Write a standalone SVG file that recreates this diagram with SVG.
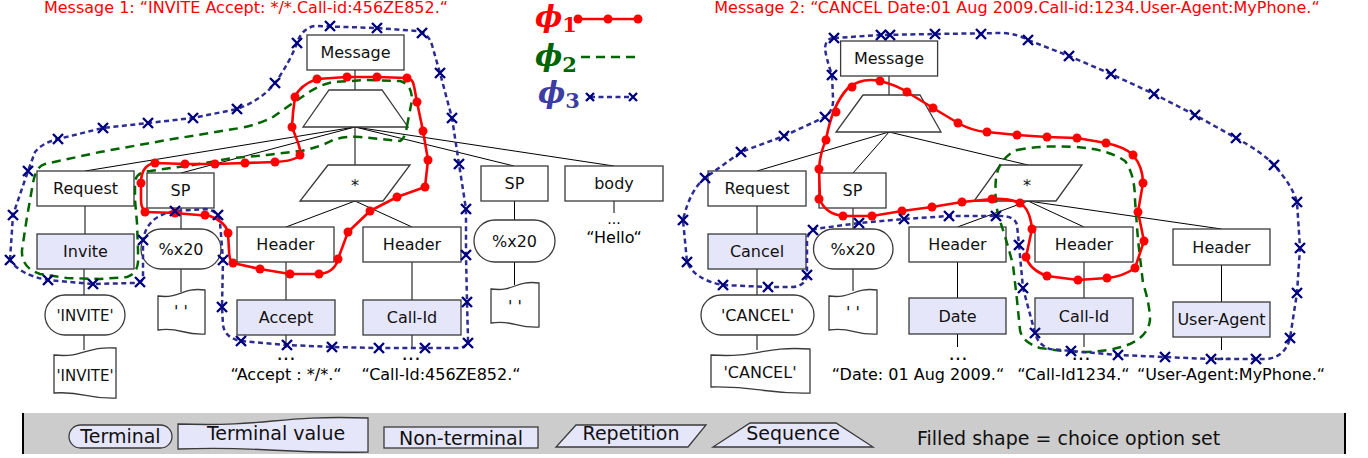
<svg xmlns="http://www.w3.org/2000/svg" xmlns:xlink="http://www.w3.org/1999/xlink" width="1368" height="458" viewBox="0 0 1368 458">
<style>
.box{fill:#fff;stroke:#3a3a3a;stroke-width:1.3}
.ch{fill:#e6e6fa;stroke:#3a3a3a;stroke-width:1.3}
.t{font-family:"DejaVu Sans",sans-serif;font-size:16px;text-anchor:middle;fill:#111}
.q{font-family:"DejaVu Sans",sans-serif;font-size:16px;text-anchor:middle;fill:#000}
.dd{font-family:"DejaVu Sans",sans-serif;font-size:20px;text-anchor:middle;fill:#000}
.ttl{font-family:"DejaVu Sans",sans-serif;font-size:16px;text-anchor:middle;fill:#ff0000}
.lg{font-family:"DejaVu Sans",sans-serif;font-size:19px;text-anchor:middle;fill:#111}
.e{stroke:#000;stroke-width:1;fill:none}
.p1{fill:none;stroke:#ff0000;stroke-width:2.6;stroke-linejoin:round}
.p2{fill:none;stroke:#006400;stroke-width:2.5;stroke-dasharray:9 6}
.p3{fill:none;stroke:#2c2c92;stroke-width:2.5;stroke-dasharray:5 3.5}
.dot{fill:#ff0000}
.xm{stroke:#00007f;stroke-width:2.4;fill:none}
.phi{font-family:"DejaVu Serif",serif;font-weight:bold;font-style:italic;font-size:29px}
.sub{font-family:"DejaVu Serif",serif;font-weight:bold;font-style:normal;font-size:21px}
</style>
<defs>
<circle id="d" r="4.5" class="dot"/>
<path id="x" d="M-5,-5L5,5M-5,5L5,-5" class="xm"/>
</defs>

<!-- titles -->
<text class="ttl" x="246" y="13">Message 1: “INVITE Accept: */*.Call-id:456ZE852.“</text>
<text class="ttl" x="1017" y="13">Message 2: “CANCEL Date:01 Aug 2009.Call-id:1234.User-Agent:MyPhone.“</text>

<!-- phi legend -->
<g id="phi-legend">
<text class="phi" x="535" y="27" fill="#ff0000">ϕ<tspan class="sub" dy="5">1</tspan></text>
<line x1="578" y1="19" x2="638" y2="19" stroke="#ff0000" stroke-width="2.5"/>
<use xlink:href="#d" x="578" y="19"/><use xlink:href="#d" x="608" y="19"/><use xlink:href="#d" x="638" y="19"/>
<text class="phi" x="535" y="66" fill="#006400">ϕ<tspan class="sub" dy="6">2</tspan></text>
<line x1="581" y1="57" x2="640" y2="57" class="p2"/>
<text class="phi" x="538" y="103" fill="#3c3ca5">ϕ<tspan class="sub" dy="5">3</tspan></text>
<line x1="590" y1="97" x2="633" y2="97" class="p3"/>
<path d="M586,93L594,101M586,101L594,93M629,93L637,101M629,101L637,93" class="xm"/>
</g>

<!-- connectors -->
<g id="connectors">
<path class="e" d="M355,70V90M355,127L85,171M355,127L181,173M355,127V165M355,127L514,166M355,127L614,166
M85,206V234M84,269V295M84,335V350M181,208V229M181,269V292
M355,201L286,227M355,201L412,227M286,262V300M412,262V300M286,335V348M412,335V348
M514.5,201V220M514.5,262V285M614,201V213"/>
<path class="e" d="M889,76V95M889,132L757,171M889,132L853,173M889,132L1028,165
M757,206V234M757,269V295M757,335V350M853,208V229M853,269V291
M1028,201L957.5,227M1028,201L1084,227M1028,201L1221.5,229
M957.5,262V298M1084,262V298M1221.5,265V302M957.5,334V347M1084,334V347M1221.5,337V350"/>
</g>

<!-- left tree nodes -->
<g id="l-message"><rect class="box" x="307" y="35" width="97" height="35"/><text class="t" x="355.5" y="58.3">Message</text></g>
<g id="l-seq"><polygon class="box" points="329,90 382,90 408,127 303,127"/></g>
<g id="l-request"><rect class="box" x="37" y="171" width="97" height="35"/><text class="t" x="85.5" y="194.3">Request</text></g>
<g id="l-sp1"><rect class="box" x="147" y="173" width="67" height="35"/><text class="t" x="180.5" y="196.3">SP</text></g>
<g id="l-rep"><polygon class="box" points="328,165 410,165 383,201 300,201"/><text class="t" x="355" y="190.5">*</text></g>
<g id="l-sp2"><rect class="box" x="481" y="166" width="67" height="35"/><text class="t" x="514.5" y="189.3">SP</text></g>
<g id="l-body"><rect class="box" x="565" y="166" width="98" height="35"/><text class="t" x="614" y="189.3">body</text></g>
<g id="l-invite"><rect class="ch" x="37" y="234" width="97" height="35"/><text class="t" x="85.5" y="257.3">Invite</text></g>
<g id="l-x20a"><rect class="box" x="141" y="229" width="80" height="40" rx="20"/><text class="t" x="181" y="254.8">%x20</text></g>
<g id="l-x20b"><rect class="box" x="474" y="220" width="81" height="42" rx="21"/><text class="t" x="514.5" y="246.8">%x20</text></g>
<g id="l-header1"><rect class="box" x="237" y="227" width="97" height="35"/><text class="t" x="285.5" y="250.3">Header</text></g>
<g id="l-header2"><rect class="box" x="363" y="227" width="98" height="35"/><text class="t" x="412" y="250.3">Header</text></g>
<g id="l-accept"><rect class="ch" x="237" y="300" width="98" height="35"/><text class="t" x="286" y="323.3">Accept</text></g>
<g id="l-callid"><rect class="ch" x="363" y="300" width="98" height="35"/><text class="t" x="412" y="323.3">Call-Id</text></g>
<g id="l-invite-term"><rect class="box" x="45" y="295" width="80" height="40" rx="20"/><text class="t" x="85" y="320.5" style="font-size:15px">'INVITE'</text></g>
<g id="l-invite-val"><path class="box" d="M54,355C85,358 85,346 116,348L116,398C85,399 85,391 54,393Z"/><text class="t" x="85" y="381" style="font-size:15px">'INVITE'</text></g>
<g id="l-sp-val1"><path class="box" d="M158,296C181,299 181,287 205,290L205,334C181,335 181,327 158,330Z"/><text class="t" x="181" y="317">' '</text></g>
<g id="l-sp-val2"><path class="box" d="M491,289C515,292 515,280 539,283L539,327C515,328 515,320 491,323Z"/><text class="t" x="515" y="312">' '</text></g>
<g id="l-hello"><text class="q" x="614" y="224" style="font-size:14px">...</text><text class="q" x="614" y="243">“Hello“</text></g>
<g id="l-accept-val"><text class="dd" x="286" y="360">...</text><text class="q" x="286" y="380">“Accept : */*.“</text></g>
<g id="l-callid-val"><text class="dd" x="411" y="360">...</text><text class="q" x="441" y="380">“Call-Id:456ZE852.“</text></g>

<!-- right tree nodes -->
<g id="r-message"><rect class="box" x="840.6" y="41" width="97" height="35"/><text class="t" x="889" y="64.3">Message</text></g>
<g id="r-seq"><polygon class="box" points="863,95 920,95 941,132 836,132"/></g>
<g id="r-request"><rect class="box" x="708" y="171" width="98" height="35"/><text class="t" x="757" y="194.3">Request</text></g>
<g id="r-sp"><rect class="box" x="819" y="173" width="67" height="35"/><text class="t" x="852.5" y="196.3">SP</text></g>
<g id="r-rep"><polygon class="box" points="1000,165 1082,165 1056,201 974,201"/><text class="t" x="1027" y="190.5">*</text></g>
<g id="r-cancel"><rect class="ch" x="708" y="234" width="98" height="35"/><text class="t" x="757" y="257.3">Cancel</text></g>
<g id="r-x20"><rect class="box" x="813.5" y="229" width="79.5" height="40" rx="20"/><text class="t" x="853" y="254.8">%x20</text></g>
<g id="r-header1"><rect class="box" x="909" y="227" width="97" height="35"/><text class="t" x="957.5" y="250.3">Header</text></g>
<g id="r-header2"><rect class="box" x="1035" y="227" width="98" height="35"/><text class="t" x="1084" y="250.3">Header</text></g>
<g id="r-header3"><rect class="box" x="1173" y="229" width="97" height="36"/><text class="t" x="1221.5" y="252.8">Header</text></g>
<g id="r-date"><rect class="ch" x="909" y="298" width="97" height="36"/><text class="t" x="957.5" y="321.8">Date</text></g>
<g id="r-callid"><rect class="ch" x="1035" y="298" width="98" height="36"/><text class="t" x="1084" y="321.8">Call-Id</text></g>
<g id="r-ua"><rect class="ch" x="1173" y="302" width="97" height="35"/><text class="t" x="1221.5" y="325.3">User-Agent</text></g>
<g id="r-cancel-term"><rect class="box" x="701" y="295" width="113" height="40" rx="20"/><text class="t" x="757.5" y="320.8">'CANCEL'</text></g>
<g id="r-cancel-val"><path class="box" d="M711,355C760,358 760,346 810,349L810,393C760,394 760,386 711,387Z"/><text class="t" x="760" y="378">'CANCEL'</text></g>
<g id="r-sp-val"><path class="box" d="M829,296C853,299 853,287 877,290L877,334C853,335 853,327 829,330Z"/><text class="t" x="853" y="318">' '</text></g>
<g id="r-date-val"><text class="dd" x="958" y="360">...</text><text class="q" x="918" y="380">“Date: 01 Aug 2009.“</text></g>
<g id="r-callid-val"><text class="dd" x="1081" y="360">...</text><text class="q" x="1073.5" y="380">“Call-Id1234.“</text></g>
<g id="r-ua-val"><text class="dd" x="1222" y="360">...</text><text class="q" x="1231" y="380">“User-Agent:MyPhone.“</text></g>

<!-- contours -->
<g id="contours">
<path class="p2" d="M407,126L412,100Q412,84 400,81L367,80L333,82Q318,85 305,95L290,105L273,117Q260,124 240,128L167,140L100,152L45,164Q36,166 33,183L27,217L22,250Q21,268 40,274L67,278L100,279L127,277Q137,274 138,262L138,250L137,223L135,200L135,182Q136,172 150,171L193,165L233,158L267,155L300,151Q318,148 333,140Q345,136 360,137L400,141Q405,139 407,126Z"/>
<path class="p3" d="M10,260L13,215L28,171L35,152Q42,143 58,139L103,128L148,123L193,118L237,109Q262,100 275,83Q290,62 297,43Q302,28 315,26L377,28L418,31Q428,33 432,45L440,73L452,118L459,164L466,209L466,255L467,302L468,338Q468,348 458,348L379,348L332,347L287,345L241,341Q225,338 223,325L222,307L223,260L220,222Q218,210 205,209L175,211Q157,214 149,225Q143,233 143,245L143,277Q143,283 135,283L93,284L48,280Q20,275 10,260Z"/>
<path class="p1" d="M317,79L347,77L377,77L407,78Q413,79 414,86L417,102L423,131L428,160L425,187L397,197L370,211L348,232L338,259Q335,272 320,274L290,274L260,269L233,263Q229,260 229,250L228,233Q226,222 210,216L175,213L147,212Q141,210 141,200L141,183Q141,165 155,163L185,164L215,164L245,163L275,162Q295,161 300,155Q301,150 297,140L292,127L293,113L295,97Q300,85 317,79Z"/>
<path class="p2" d="M1017,150Q1040,145 1075,147Q1108,149 1125,161Q1135,175 1135,200L1138,240L1143,283Q1150,305 1150,320Q1148,336 1130,344Q1108,353 1070,352L1040,348Q1022,342 1020,330L1017,300L1013,265Q1006,238 999,218Q994,200 996,178Q999,158 1017,150Z"/>
<path class="p3" d="M834,38L881,35L935,34L1003,33Q1018,34 1028,40L1069,56L1111,74L1154,94L1195,115L1236,138Q1262,152 1274,165Q1292,185 1297,202L1300,248L1297,293L1290,338Q1285,358 1265,359L1211,359L1165,357L1118,355L1071,351L1050,349Q1038,345 1035,333L1023,288L1019,245L1017,225Q1015,216 1000,216L949,216L904,219L859,223L815,229Q807,232 807,242L807,275Q806,286 792,287L768,287L723,285Q695,280 687,262L683,220Q690,190 705,178L741,152L784,136L825,117Q834,110 833,98L832,75Q826,58 825,48Q826,38 834,38Z"/>
<path class="p1" d="M826,140Q832,105 848,88Q862,77 880,81Q896,85 907,92L933,108L958,123Q972,131 987,132L1017,135L1047,137L1077,138L1106,143Q1125,147 1133,155Q1143,167 1143,183L1138,212L1144,241L1135,268Q1122,277 1107,278L1078,280L1047,276Q1030,270 1026,257L1032,229Q1030,209 1020,203Q1008,198 992,199L962,202L932,207L902,211L872,216L843,216Q826,214 820,200L819,169Q820,153 826,140Z"/>
<g id="l-dots">
<use xlink:href="#d" x="317" y="79"/><use xlink:href="#d" x="347" y="77"/><use xlink:href="#d" x="377" y="77"/><use xlink:href="#d" x="407" y="78"/><use xlink:href="#d" x="417" y="102"/><use xlink:href="#d" x="423" y="131"/><use xlink:href="#d" x="428" y="160"/><use xlink:href="#d" x="425" y="187"/><use xlink:href="#d" x="397" y="197"/><use xlink:href="#d" x="370" y="211"/><use xlink:href="#d" x="348" y="232"/><use xlink:href="#d" x="338" y="259"/><use xlink:href="#d" x="319" y="274"/><use xlink:href="#d" x="290" y="274"/><use xlink:href="#d" x="260" y="269"/><use xlink:href="#d" x="233" y="263"/><use xlink:href="#d" x="228" y="233"/><use xlink:href="#d" x="205" y="215"/><use xlink:href="#d" x="175" y="213"/><use xlink:href="#d" x="145" y="212"/><use xlink:href="#d" x="141" y="183"/><use xlink:href="#d" x="155" y="163"/><use xlink:href="#d" x="185" y="164"/><use xlink:href="#d" x="215" y="164"/><use xlink:href="#d" x="245" y="163"/><use xlink:href="#d" x="275" y="162"/><use xlink:href="#d" x="300" y="155"/><use xlink:href="#d" x="292" y="127"/><use xlink:href="#d" x="295" y="97"/>
</g>
<g id="r-dots">
<use xlink:href="#d" x="826" y="140"/><use xlink:href="#d" x="836" y="112"/><use xlink:href="#d" x="852" y="87"/><use xlink:href="#d" x="880" y="81"/><use xlink:href="#d" x="907" y="92"/><use xlink:href="#d" x="933" y="108"/><use xlink:href="#d" x="958" y="123"/><use xlink:href="#d" x="987" y="132"/><use xlink:href="#d" x="1017" y="135"/><use xlink:href="#d" x="1047" y="137"/><use xlink:href="#d" x="1077" y="138"/><use xlink:href="#d" x="1106" y="143"/><use xlink:href="#d" x="1133" y="155"/><use xlink:href="#d" x="1143" y="183"/><use xlink:href="#d" x="1138" y="212"/><use xlink:href="#d" x="1144" y="241"/><use xlink:href="#d" x="1135" y="268"/><use xlink:href="#d" x="1107" y="278"/><use xlink:href="#d" x="1078" y="280"/><use xlink:href="#d" x="1047" y="276"/><use xlink:href="#d" x="1026" y="257"/><use xlink:href="#d" x="1032" y="229"/><use xlink:href="#d" x="1020" y="203"/><use xlink:href="#d" x="992" y="199"/><use xlink:href="#d" x="962" y="202"/><use xlink:href="#d" x="932" y="207"/><use xlink:href="#d" x="902" y="211"/><use xlink:href="#d" x="872" y="216"/><use xlink:href="#d" x="843" y="216"/><use xlink:href="#d" x="819" y="199"/><use xlink:href="#d" x="819" y="169"/>
</g>
<g id="l-x">
<use xlink:href="#x" x="58" y="139"/><use xlink:href="#x" x="103" y="128"/><use xlink:href="#x" x="148" y="123"/><use xlink:href="#x" x="193" y="118"/><use xlink:href="#x" x="237" y="109"/><use xlink:href="#x" x="275" y="83"/><use xlink:href="#x" x="297" y="43"/><use xlink:href="#x" x="330" y="26"/><use xlink:href="#x" x="377" y="28"/><use xlink:href="#x" x="422" y="33"/><use xlink:href="#x" x="440" y="73"/><use xlink:href="#x" x="452" y="118"/><use xlink:href="#x" x="459" y="164"/><use xlink:href="#x" x="466" y="209"/><use xlink:href="#x" x="466" y="255"/><use xlink:href="#x" x="467" y="302"/><use xlink:href="#x" x="468" y="343"/><use xlink:href="#x" x="425" y="348"/><use xlink:href="#x" x="379" y="348"/><use xlink:href="#x" x="332" y="347"/><use xlink:href="#x" x="287" y="345"/><use xlink:href="#x" x="241" y="341"/><use xlink:href="#x" x="222" y="307"/><use xlink:href="#x" x="223" y="260"/><use xlink:href="#x" x="218" y="215"/><use xlink:href="#x" x="175" y="211"/><use xlink:href="#x" x="143" y="240"/><use xlink:href="#x" x="140" y="282"/><use xlink:href="#x" x="93" y="284"/><use xlink:href="#x" x="48" y="280"/><use xlink:href="#x" x="10" y="260"/><use xlink:href="#x" x="13" y="215"/><use xlink:href="#x" x="28" y="171"/>
</g>
<g id="r-x">
<use xlink:href="#x" x="834" y="38"/><use xlink:href="#x" x="881" y="35"/><use xlink:href="#x" x="890" y="35"/><use xlink:href="#x" x="935" y="34"/><use xlink:href="#x" x="981" y="34"/><use xlink:href="#x" x="1028" y="40"/><use xlink:href="#x" x="1069" y="56"/><use xlink:href="#x" x="1111" y="74"/><use xlink:href="#x" x="1154" y="94"/><use xlink:href="#x" x="1195" y="115"/><use xlink:href="#x" x="1236" y="138"/><use xlink:href="#x" x="1274" y="165"/><use xlink:href="#x" x="1297" y="202"/><use xlink:href="#x" x="1300" y="248"/><use xlink:href="#x" x="1297" y="293"/><use xlink:href="#x" x="1290" y="338"/><use xlink:href="#x" x="1256" y="359"/><use xlink:href="#x" x="1211" y="359"/><use xlink:href="#x" x="1165" y="357"/><use xlink:href="#x" x="1118" y="355"/><use xlink:href="#x" x="1071" y="351"/><use xlink:href="#x" x="1035" y="333"/><use xlink:href="#x" x="1023" y="288"/><use xlink:href="#x" x="1019" y="245"/><use xlink:href="#x" x="996" y="216"/><use xlink:href="#x" x="949" y="216"/><use xlink:href="#x" x="904" y="219"/><use xlink:href="#x" x="859" y="223"/><use xlink:href="#x" x="813" y="230"/><use xlink:href="#x" x="807" y="275"/><use xlink:href="#x" x="768" y="287"/><use xlink:href="#x" x="723" y="285"/><use xlink:href="#x" x="687" y="262"/><use xlink:href="#x" x="683" y="220"/><use xlink:href="#x" x="705" y="178"/><use xlink:href="#x" x="741" y="152"/><use xlink:href="#x" x="784" y="136"/><use xlink:href="#x" x="825" y="117"/><use xlink:href="#x" x="832" y="75"/>
</g>
</g>

<!-- bottom legend -->
<g id="legend">
<rect x="22" y="413" width="1323" height="41" fill="#cccccc"/>
<line x1="23" y1="413" x2="23" y2="454" stroke="#000" stroke-width="2"/>
<line x1="1345" y1="413" x2="1345" y2="454" stroke="#000" stroke-width="2"/>
<g id="lg-terminal"><rect class="ch" x="69" y="425" width="103" height="23" rx="11.5"/><text class="lg" x="120.5" y="443">Terminal</text></g>
<g id="lg-tvalue"><path class="ch" d="M178,424C273,427 273,415 368,418L368,452C273,454 273,446 178,449Z"/><text class="lg" x="276" y="440">Terminal value</text></g>
<g id="lg-nonterm"><rect class="ch" x="384" y="427" width="154" height="21"/><text class="lg" x="461" y="445">Non-terminal</text></g>
<g id="lg-rep"><polygon class="ch" points="576,425 706,425 688,447 556,447"/><text class="lg" x="631" y="440">Repetition</text></g>
<g id="lg-seq"><polygon class="ch" points="750,423 836,423 873,447 713,447"/><text class="lg" x="793" y="440">Sequence</text></g>
<text class="lg" x="917" y="445" style="text-anchor:start">Filled shape = choice option set</text>
</g>
</svg>
